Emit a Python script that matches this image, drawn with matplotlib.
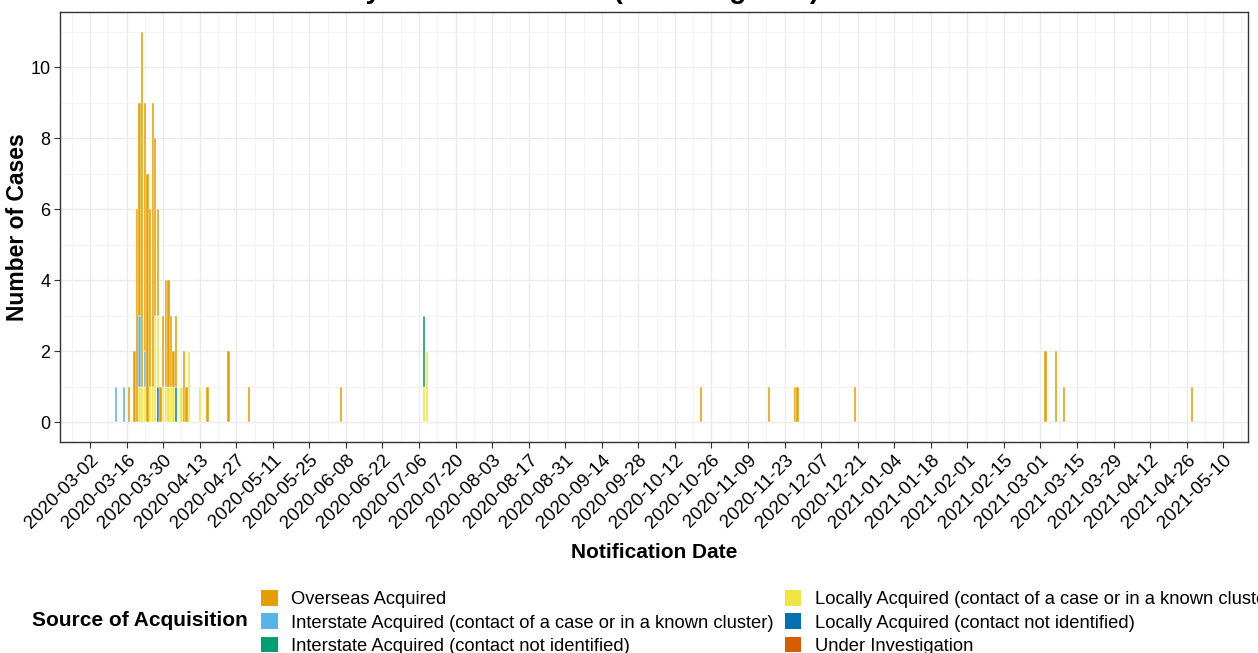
import matplotlib
matplotlib.use("Agg")
import matplotlib.pyplot as plt
from matplotlib.patches import Patch
import numpy as np
import pandas as pd

plt.rcParams['font.family'] = ['Liberation Sans', 'DejaVu Sans']

dates = ["2020-03-12", "2020-03-15", "2020-03-17", "2020-03-19", "2020-03-20",
         "2020-03-21", "2020-03-22", "2020-03-23", "2020-03-24", "2020-03-25",
         "2020-03-26", "2020-03-27", "2020-03-28", "2020-03-29", "2020-03-30",
         "2020-03-31", "2020-04-01", "2020-04-02", "2020-04-03", "2020-04-04",
         "2020-04-06", "2020-04-07", "2020-04-08", "2020-04-09", "2020-04-13",
         "2020-04-16", "2020-04-24", "2020-05-02", "2020-06-06", "2020-07-08",
         "2020-07-09", "2020-10-22", "2020-11-17", "2020-11-27", "2020-11-28",
         "2020-12-20", "2021-03-03", "2021-03-07", "2021-03-10", "2021-04-28"]

overseas =            [0, 0, 1, 2, 6, 6, 10, 7, 7, 5, 8, 5, 3, 1, 2, 3, 3, 2, 1, 2,
                       0, 2, 1, 0, 0, 1, 2, 1, 1, 0, 0, 1, 1, 1, 1, 1, 2, 2, 1, 1]
interstate_contact =  [1, 1, 0, 0, 0, 2, 0, 1, 0, 0, 0, 0, 0, 0, 0, 0, 0, 0, 0, 0,
                       0, 0, 0, 0, 0, 0, 0, 0, 0, 0, 0, 0, 0, 0, 0, 0, 0, 0, 0, 0]
interstate_unknown =  [0, 0, 0, 0, 0, 0, 0, 0, 0, 0, 0, 0, 0, 0, 0, 0, 0, 0, 0, 1,
                       0, 0, 0, 0, 0, 0, 0, 0, 0, 2, 0, 0, 0, 0, 0, 0, 0, 0, 0, 0]
local_contact =       [0, 0, 0, 0, 0, 1, 1, 1, 0, 1, 1, 3, 2, 0, 1, 1, 1, 1, 1, 0,
                       1, 0, 0, 2, 1, 0, 0, 0, 0, 1, 2, 0, 0, 0, 0, 0, 0, 0, 0, 0]
local_unknown =       [0, 0, 0, 0, 0, 0, 0, 0, 0, 0, 0, 0, 1, 0, 0, 0, 0, 0, 0, 0,
                       0, 0, 0, 0, 0, 0, 0, 0, 0, 0, 0, 0, 0, 0, 0, 0, 0, 0, 0, 0]
under_investigation = [0] * len(dates)

categories = ["Overseas Acquired",
              "Interstate Acquired (contact of a case or in a known cluster)",
              "Interstate Acquired (contact not identified)",
              "Locally Acquired (contact of a case or in a known cluster)",
              "Locally Acquired (contact not identified)",
              "Under Investigation"]
colors = ["#E69F00", "#56B4E9", "#009E73", "#F0E442", "#0072B2", "#D55E00"]
series = [overseas, interstate_contact, interstate_unknown,
          local_contact, local_unknown, under_investigation]

x = pd.to_datetime(dates)

W, H = 1258, 653
fig = plt.figure(figsize=(W / 100, H / 100), dpi=100)
ax = fig.add_axes([60 / W, 1 - 442 / H, (1248 - 60) / W, (442 - 12) / H])

# stack from bottom: last category at bottom, first on top
bottom = np.zeros(len(dates))
for name, col, vals in reversed(list(zip(categories, colors, series))):
    v = np.array(vals, dtype=float)
    ax.bar(x, v, bottom=bottom, width=0.9, color=col, edgecolor='white',
           linewidth=0.3, zorder=3)
    bottom += v

ax.set_xlim(pd.Timestamp("2020-02-19 12:00"), pd.Timestamp("2021-05-19 12:00"))
ax.set_ylim(-0.55, 11.55)

major = pd.date_range("2020-03-02", "2021-05-10", freq="14D")
minor = pd.date_range("2020-02-24", "2021-05-17", freq="14D")
ax.set_xticks(major)
ax.set_xticklabels([d.strftime("%Y-%m-%d") for d in major], rotation=45,
                   ha='right', rotation_mode='anchor', fontsize=13.5, color='black')
ax.set_xticks(minor, minor=True)
ax.set_yticks([0, 2, 4, 6, 8, 10])
ax.set_yticks([1, 3, 5, 7, 9, 11], minor=True)
ax.tick_params(axis='y', labelsize=13, labelcolor='black', pad=3)
ax.tick_params(axis='x', pad=3)
ax.tick_params(which='major', length=4, color='#333333', width=0.8)
ax.tick_params(which='minor', length=0)

ax.grid(which='major', color='#EBEBEB', linewidth=1.0, zorder=0)
ax.grid(which='minor', color='#F2F2F2', linewidth=0.6, zorder=0)
ax.set_axisbelow(True)
for s in ax.spines.values():
    s.set_color('#333333')
    s.set_linewidth(1.0)

ax.set_xlabel("Notification Date", fontsize=15, fontweight='bold', labelpad=8)
ax.set_ylabel("Number of Cases", fontsize=16.5, fontweight='bold', labelpad=1)

fig.text(315 / W, 1 + 2.5 / H, "Daily COVID-19 Cases (Including ACT)",
         ha='left', va='baseline', fontsize=20, fontweight='bold')

handles = [Patch(facecolor=c, edgecolor='none') for c in colors]
fig.text(32 / W, 1 - 621 / H, "Source of Acquisition", fontsize=15, fontweight='bold',
         ha='left', va='center')
leg = fig.legend(handles, categories, ncol=2, loc='upper left',
                 bbox_to_anchor=(261 / W, 1 - 590 / H), frameon=False,
                 fontsize=13.2, handlelength=0.9, handleheight=0.95,
                 handletextpad=0.75, columnspacing=0.6, labelspacing=0.28,
                 borderaxespad=0, borderpad=0)

fig.savefig("out.png", dpi=100)
